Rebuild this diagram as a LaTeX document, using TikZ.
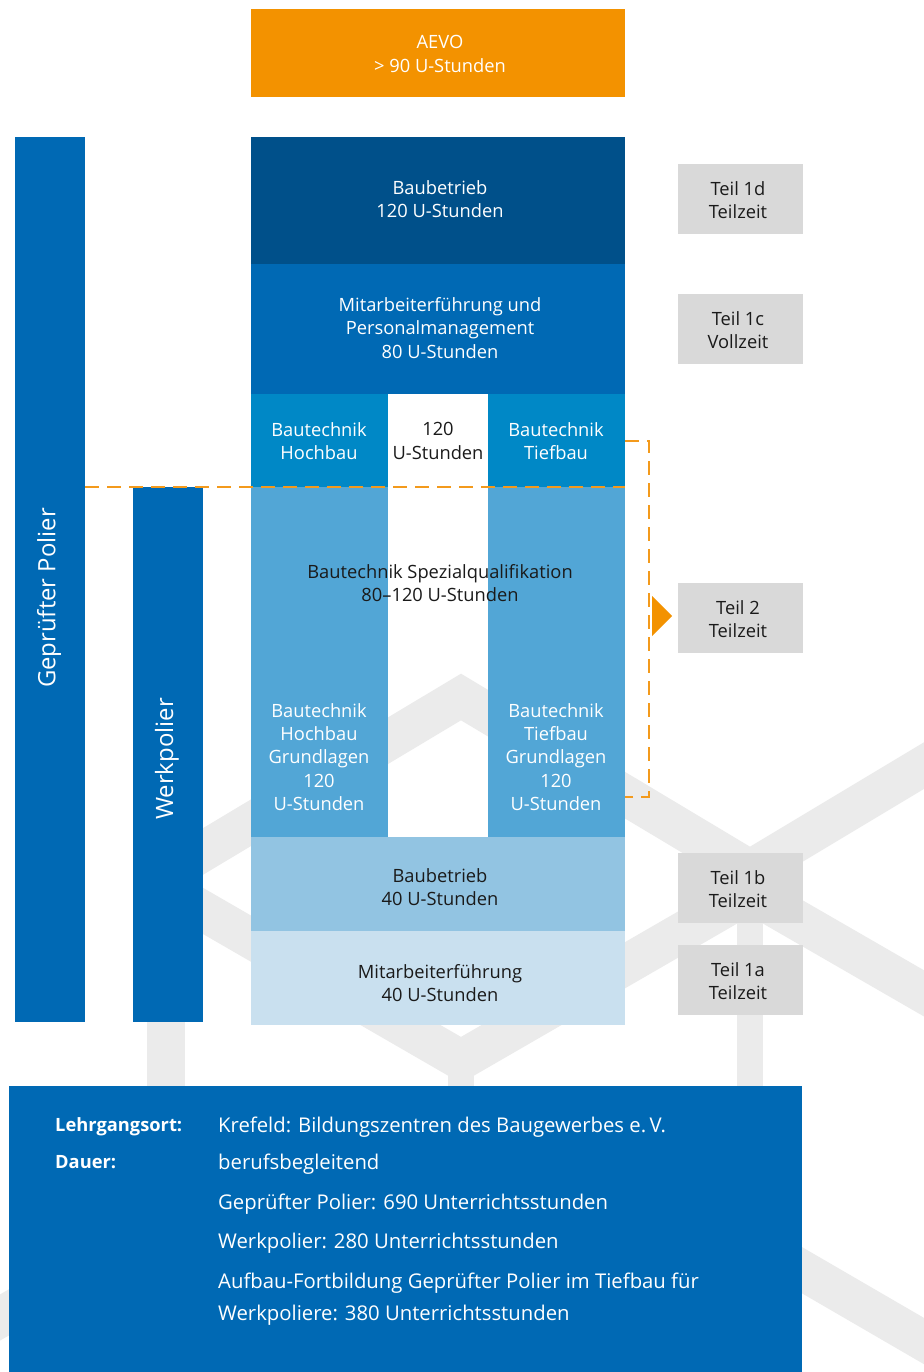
\documentclass[tikz,border=0pt]{standalone}
\usepackage{fontspec}
\setmainfont{Open Sans}
\usetikzlibrary{arrows.meta}
\definecolor{cOrange}{HTML}{F39200}
\definecolor{cDark}{HTML}{00508A}
\definecolor{cBlue}{HTML}{0069B4}
\definecolor{cTech}{HTML}{0088C6}
\definecolor{cMid}{HTML}{52A6D6}
\definecolor{cLight}{HTML}{92C4E2}
\definecolor{cPale}{HTML}{C9E0EF}
\definecolor{cTeil}{HTML}{D9D9D9}
\definecolor{cBand}{HTML}{EBEBEB}
\definecolor{cText}{HTML}{1A1A1A}
\definecolor{cDash}{HTML}{F39A1C}
\begin{document}
\begin{tikzpicture}[x=1pt,y=-1pt,
  box/.style={inner sep=0pt, outer sep=0pt, draw=none},
  txt/.style={inner sep=0pt, align=center, font=\fontsize{18.3}{23.3}\selectfont},
  wtxt/.style={txt, text=white},
  btxt/.style={txt, text=cText},
  teil/.style={box, fill=cTeil, minimum width=125pt, minimum height=70pt},
  teiltxt/.style={inner sep=0pt, align=center, text=cText, font=\fontsize{18.3}{23}\selectfont},
  band/.style={draw=cBand, line width=40pt, line join=miter, line cap=butt},
  vband/.style={draw=cBand, line width=#1, line cap=butt},
  odash/.style={draw=cDash, line width=2.2pt, dash pattern=on 14pt off 8pt},
  info/.style={inner sep=0pt, anchor=base west, text=white, font=\fontsize{20.3}{24}\selectfont},
  infob/.style={info, font=\fontsize{18.3}{22}\selectfont\bfseries},
  vtxt/.style={inner sep=0pt, rotate=90, text=white, font=\fontsize{23.9}{28}\selectfont}
]
\useasboundingbox (0,0) rectangle (923,1372);
\fill[white] (0,0) rectangle (923,1372);

% background hexagon bands
\coordinate (hT) at (461,697);
\coordinate (hL1) at (172,870);
\coordinate (hR1) at (750,870);
\coordinate (hR1o) at (1010,714);
\coordinate (hL2) at (172,893);
\coordinate (hR2) at (750,893);
\coordinate (hR2o) at (1010,1043);
\coordinate (hB) at (461,1060);
\coordinate (hBd) at (461,1100);
\coordinate (hRv) at (750,1240);
\coordinate (hLv) at (166,1222);
\coordinate (hLt) at (166,880);
\coordinate (hRo) at (1010,1391);
\coordinate (hLo) at (-60,1352);
\path[band] (hL1) -- (hT) -- (hR1) -- (hR1o);
\path[band] (hL2) -- (hB) -- (hR2) -- (hR2o);
\path[vband=26pt] (hB) -- (hBd);
\path[vband=26pt] (hR1) -- (hRv);
\path[vband=38pt] (hLt) -- (hLv);
\path[band] (hRv) -- (hRo);
\path[band] (hLv) -- (hLo);

% main boxes
\node[box, fill=cOrange, minimum width=374pt, minimum height=88pt] (aevo) at (438,53) {};
\node[wtxt] (aevoT) at (440,54) {AEVO\\> 90 U-Stunden};

\node[box, fill=cDark, minimum width=374pt, minimum height=127pt] (bau120) at (438,200.5) {};
\node[wtxt] (bau120T) at (440,199) {Baubetrieb\\120 U-Stunden};

\node[box, fill=cBlue, minimum width=374pt, minimum height=130pt] (mit80) at (438,329) {};
\node[wtxt] (mit80T) at (440,328) {Mitarbeiterführung und\\Personalmanagement\\80 U-Stunden};

\node[box, fill=cTech, minimum width=137pt, minimum height=93pt] (techH) at (319.5,440.5) {};
\node[wtxt] (techHT) at (319,441) {Bautechnik\\Hochbau};
\node[box, fill=cTech, minimum width=137pt, minimum height=93pt] (techT) at (556.5,440.5) {};
\node[wtxt] (techTT) at (556,441) {Bautechnik\\Tiefbau};
\node[btxt] (tech120) at (438,441) {120\\U-Stunden};

\node[box, fill=cMid, minimum width=137pt, minimum height=350pt] (grundH) at (319.5,662) {};
\node[box, fill=cMid, minimum width=137pt, minimum height=350pt] (grundT) at (556.5,662) {};
\node[wtxt] (grundHT) at (319,757) {Bautechnik\\Hochbau\\Grundlagen\\120\\U-Stunden};
\node[wtxt] (grundTT) at (556,757) {Bautechnik\\Tiefbau\\Grundlagen\\120\\U-Stunden};
\node[btxt] (spez) at (440,583) {Bautechnik Spezialqualifikation\\80–120 U-Stunden};

\node[box, fill=cLight, minimum width=374pt, minimum height=94pt] (bau40) at (438,884) {};
\node[btxt] (bau40T) at (440,887) {Baubetrieb\\40 U-Stunden};
\node[box, fill=cPale, minimum width=374pt, minimum height=94pt] (mit40) at (438,978) {};
\node[btxt] (mit40T) at (440,983) {Mitarbeiterführung\\40 U-Stunden};

% side bars
\node[box, fill=cBlue, minimum width=70pt, minimum height=885pt] (gp) at (50,579.5) {};
\node[vtxt] (gpT) at (49,598) {Geprüfter Polier};
\node[box, fill=cBlue, minimum width=70pt, minimum height=535pt] (wp) at (168,754.5) {};
\node[vtxt] (wpT) at (167,759) {Werkpolier};

% Teil boxes
\node[teil] (t1d) at (740.5,199) {};
\node[teiltxt] (t1dT) at (738,200) {Teil 1d\\Teilzeit};
\node[teil] (t1c) at (740.5,329) {};
\node[teiltxt] (t1cT) at (738,330) {Teil 1c\\Vollzeit};
\node[teil] (t2) at (740.5,618) {};
\node[teiltxt] (t2T) at (738,619) {Teil 2\\Teilzeit};
\node[teil] (t1b) at (740.5,888) {};
\node[teiltxt] (t1bT) at (738,889) {Teil 1b\\Teilzeit};
\node[teil] (t1a) at (740.5,980) {};
\node[teiltxt] (t1aT) at (738,981) {Teil 1a\\Teilzeit};

% orange dashed lines
\coordinate (dL) at (85,487);
\coordinate (dR) at (625,487);
\coordinate (bTop) at (625,441);
\coordinate (bTopR) at (649,441);
\coordinate (bBotR) at (649,797);
\coordinate (bBot) at (625,797);
\path[odash] (dL) -- (dR);
\path[odash] (bTop) -- (bTopR) -- (bBotR) -- (bBot);
\coordinate (triA) at (652,596);
\coordinate (triB) at (672,616);
\coordinate (triC) at (652,636);
\fill[cOrange] (triA) -- (triB) -- (triC) -- cycle;

% info box
\node[box, fill=cBlue, minimum width=793pt, minimum height=286pt] (infobox) at (405.5,1229) {};
\node[infob] (l1) at (55,1131) {Lehrgangsort:};
\node[infob] (l2) at (55,1168) {Dauer:};
\node[info] (v1) at (218,1132) {Krefeld: Bildungszentren des Baugewerbes e.\,V.};
\node[info] (v2) at (218,1169) {berufsbegleitend};
\node[info] (v3) at (218,1209) {Geprüfter Polier: 690 Unterrichtsstunden};
\node[info] (v4) at (218,1248) {Werkpolier: 280 Unterrichtsstunden};
\node[info] (v5) at (218,1288) {Aufbau-Fortbildung Geprüfter Polier im Tiefbau für};
\node[info] (v6) at (218,1320) {Werkpoliere: 380 Unterrichtsstunden};
\end{tikzpicture}
\end{document}
